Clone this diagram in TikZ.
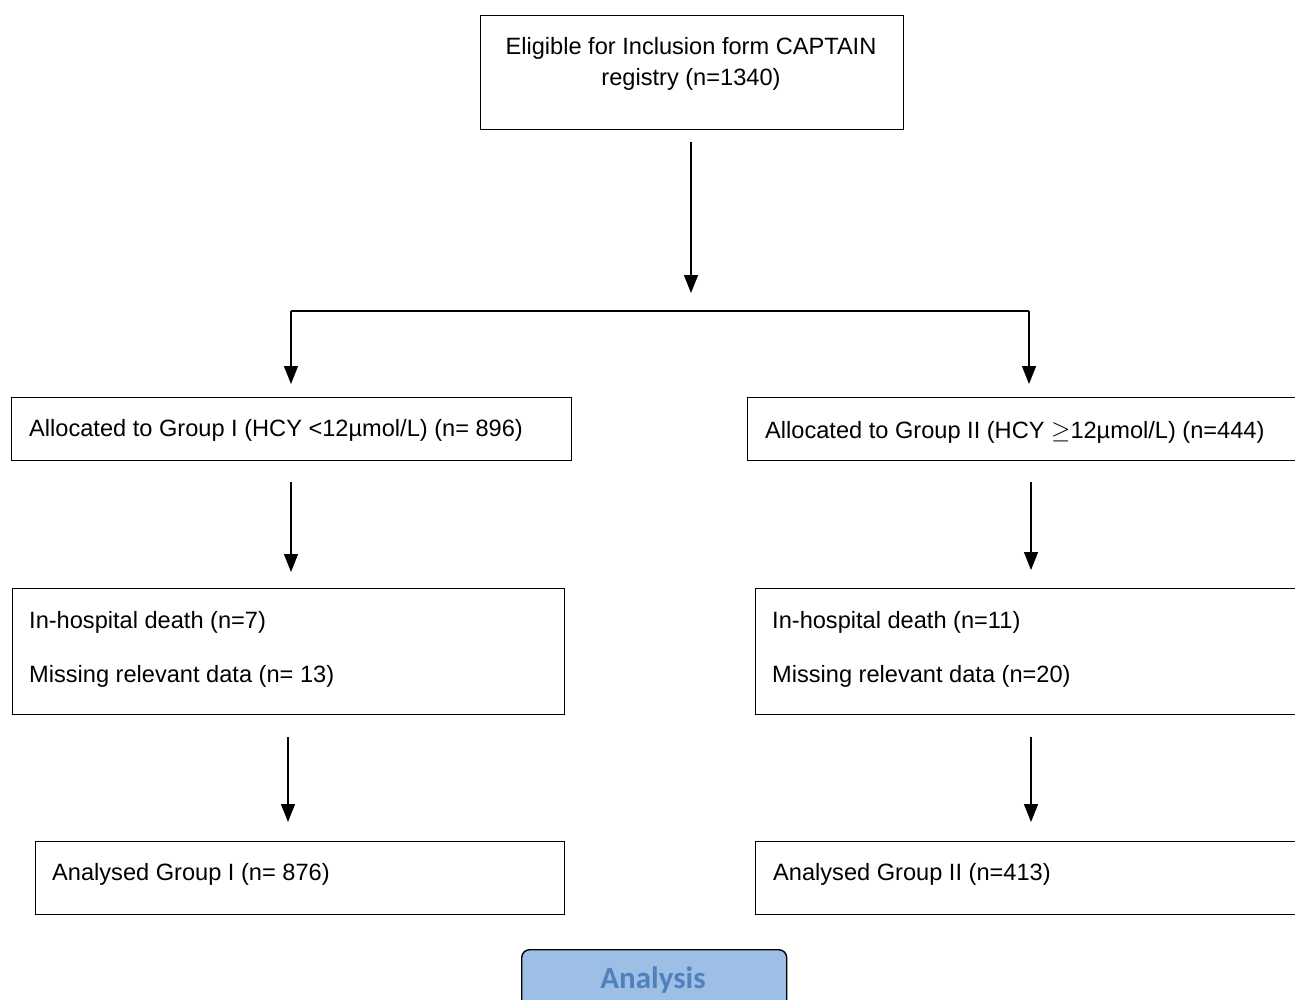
\documentclass[tikz,border=0pt]{standalone}
\usepackage{fontspec}
\setmainfont{Liberation Sans}
\newfontfamily\calibrifont{Carlito}
\usetikzlibrary{arrows.meta}
\definecolor{anafill}{RGB}{158,191,229}
\definecolor{anatext}{RGB}{79,129,189}
\begin{document}
\begin{tikzpicture}[x=1pt,y=-1pt,
  boxstyle/.style={draw=black,line width=1.4pt,rectangle,inner sep=0pt,anchor=north west},
  txt/.style={inner sep=0pt,font=\fontsize{23.6}{28}\selectfont},
  arr/.style={line width=1.4pt,-{Triangle[length=18pt,width=14pt]}},
  conn/.style={line width=1.4pt}]
\useasboundingbox (0,0) rectangle (1295,999);
\clip (0,0) rectangle (1295,999);
% boxes
\node[boxstyle,minimum width=423,minimum height=114] (top) at (480,15) {};
\node[boxstyle,minimum width=560,minimum height=63] (g1) at (11,397) {};
\node[boxstyle,minimum width=563,minimum height=63] (g2) at (747,397) {};
\node[boxstyle,minimum width=552,minimum height=126] (d1) at (12,588) {};
\node[boxstyle,minimum width=555,minimum height=126] (d2) at (755,588) {};
\node[boxstyle,minimum width=529,minimum height=73] (a1) at (35,841) {};
\node[boxstyle,minimum width=555,minimum height=73] (a2) at (755,841) {};
\node[draw=black,line width=1.4pt,fill=anafill,rounded corners=8pt,anchor=north west,
      minimum width=265,minimum height=70,inner sep=0pt] (ana) at (521,949) {};
% texts
\node[txt,anchor=base] (t1) at (691,54) {Eligible for Inclusion form CAPTAIN};
\node[txt,anchor=base] (t2) at (691,85) {registry (n=1340)};
\node[txt,anchor=base west] (tg1) at (29,436) {Allocated to Group I (HCY <12µmol/L) (n= 896)};
\node[txt,anchor=base west] (tg2) at (765,438) {Allocated to Group II (HCY $\geq$12µmol/L) (n=444)};
\node[txt,anchor=base west] (td1a) at (29,628) {In-hospital death (n=7)};
\node[txt,anchor=base west] (td1b) at (29,682) {Missing relevant data (n= 13)};
\node[txt,anchor=base west] (td2a) at (772,628) {In-hospital death (n=11)};
\node[txt,anchor=base west] (td2b) at (772,682) {Missing relevant data (n=20)};
\node[txt,anchor=base west] (ta1) at (52,880) {Analysed Group I (n= 876)};
\node[txt,anchor=base west] (ta2) at (773,880) {Analysed Group II (n=413)};
\node[inner sep=0pt,anchor=base,text=anatext,font=\calibrifont\bfseries\fontsize{31}{34}\selectfont] (tana) at (653,988) {Analysis};
% coordinates
\coordinate (split) at (691,311);
\coordinate (sl) at (291,311);
\coordinate (sr) at (1029,311);
\coordinate (cl) at (291,0);
\coordinate (cr) at (1031,0);
\coordinate (cl2) at (288,0);
% connectors
\draw[arr,shorten <=12pt,shorten >=18pt] (top.south -| split) -- (split);
\draw[conn] (sl) -- (sr);
\draw[arr,shorten >=13pt] (sl) -- (sl |- g1.north);
\draw[arr,shorten >=13pt] (sr) -- (sr |- g2.north);
\draw[arr,shorten <=21pt,shorten >=16pt] (g1.south -| cl) -- (d1.north -| cl);
\draw[arr,shorten <=21pt,shorten >=18pt] (g2.south -| cr) -- (d2.north -| cr);
\draw[arr,shorten <=22pt,shorten >=19pt] (d1.south -| cl2) -- (a1.north -| cl2);
\draw[arr,shorten <=22pt,shorten >=19pt] (d2.south -| cr) -- (a2.north -| cr);
\end{tikzpicture}
\end{document}
